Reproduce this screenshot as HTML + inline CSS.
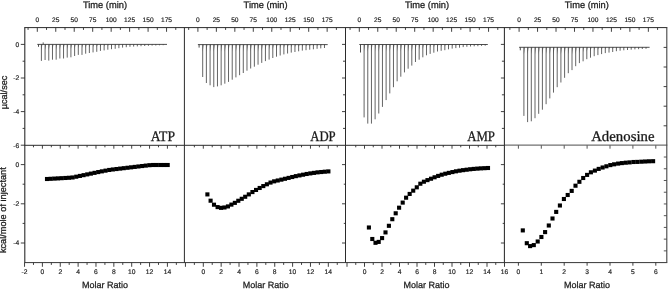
<!DOCTYPE html>
<html><head><meta charset="utf-8"><title>ITC</title>
<style>
html,body{margin:0;padding:0;background:#fff;}
body{width:670px;height:291px;overflow:hidden;font-family:"Liberation Sans",sans-serif;}
svg{display:block;will-change:transform;}
text{text-rendering:geometricPrecision;}
</style></head>
<body>
<svg width="670" height="291" viewBox="0 0 670 291">
<rect x="0" y="0" width="670" height="291" fill="#ffffff"/>
<line x1="24.30" y1="27.60" x2="667.30" y2="27.60" stroke="#2b2b2b" stroke-width="1.0"/>
<line x1="24.30" y1="145.30" x2="504.40" y2="145.30" stroke="#2b2b2b" stroke-width="1.0"/>
<line x1="504.40" y1="145.10" x2="667.30" y2="145.10" stroke="#707070" stroke-width="1.4"/>
<line x1="24.30" y1="262.60" x2="667.30" y2="262.60" stroke="#2b2b2b" stroke-width="0.95"/>
<line x1="24.80" y1="27.60" x2="24.80" y2="262.60" stroke="#2b2b2b" stroke-width="1.1"/>
<line x1="184.40" y1="27.60" x2="184.40" y2="262.60" stroke="#2b2b2b" stroke-width="1.0"/>
<line x1="345.50" y1="27.60" x2="345.50" y2="262.60" stroke="#2b2b2b" stroke-width="1.05"/>
<line x1="504.40" y1="27.60" x2="504.40" y2="262.60" stroke="#2b2b2b" stroke-width="1.05"/>
<line x1="666.80" y1="27.60" x2="666.80" y2="262.60" stroke="#444" stroke-width="1.1"/>
<line x1="28.07" y1="27.60" x2="28.07" y2="29.90" stroke="#2b2b2b" stroke-width="0.9"/>
<line x1="37.30" y1="27.60" x2="37.30" y2="31.80" stroke="#2b2b2b" stroke-width="0.9"/>
<line x1="46.53" y1="27.60" x2="46.53" y2="29.90" stroke="#2b2b2b" stroke-width="0.9"/>
<line x1="55.76" y1="27.60" x2="55.76" y2="31.80" stroke="#2b2b2b" stroke-width="0.9"/>
<line x1="65.00" y1="27.60" x2="65.00" y2="29.90" stroke="#2b2b2b" stroke-width="0.9"/>
<line x1="74.23" y1="27.60" x2="74.23" y2="31.80" stroke="#2b2b2b" stroke-width="0.9"/>
<line x1="83.46" y1="27.60" x2="83.46" y2="29.90" stroke="#2b2b2b" stroke-width="0.9"/>
<line x1="92.69" y1="27.60" x2="92.69" y2="31.80" stroke="#2b2b2b" stroke-width="0.9"/>
<line x1="101.92" y1="27.60" x2="101.92" y2="29.90" stroke="#2b2b2b" stroke-width="0.9"/>
<line x1="111.16" y1="27.60" x2="111.16" y2="31.80" stroke="#2b2b2b" stroke-width="0.9"/>
<line x1="120.39" y1="27.60" x2="120.39" y2="29.90" stroke="#2b2b2b" stroke-width="0.9"/>
<line x1="129.62" y1="27.60" x2="129.62" y2="31.80" stroke="#2b2b2b" stroke-width="0.9"/>
<line x1="138.85" y1="27.60" x2="138.85" y2="29.90" stroke="#2b2b2b" stroke-width="0.9"/>
<line x1="148.09" y1="27.60" x2="148.09" y2="31.80" stroke="#2b2b2b" stroke-width="0.9"/>
<line x1="157.32" y1="27.60" x2="157.32" y2="29.90" stroke="#2b2b2b" stroke-width="0.9"/>
<line x1="166.55" y1="27.60" x2="166.55" y2="31.80" stroke="#2b2b2b" stroke-width="0.9"/>
<line x1="175.78" y1="27.60" x2="175.78" y2="29.90" stroke="#2b2b2b" stroke-width="0.9"/>
<text x="37.30" y="22.20" font-size="6.6" text-anchor="middle" font-family='"Liberation Sans", sans-serif' fill="#1c1c1c" stroke="#1c1c1c" stroke-width="0.18" >0</text>
<text x="55.76" y="22.20" font-size="6.6" text-anchor="middle" font-family='"Liberation Sans", sans-serif' fill="#1c1c1c" stroke="#1c1c1c" stroke-width="0.18" >25</text>
<text x="74.23" y="22.20" font-size="6.6" text-anchor="middle" font-family='"Liberation Sans", sans-serif' fill="#1c1c1c" stroke="#1c1c1c" stroke-width="0.18" >50</text>
<text x="92.69" y="22.20" font-size="6.6" text-anchor="middle" font-family='"Liberation Sans", sans-serif' fill="#1c1c1c" stroke="#1c1c1c" stroke-width="0.18" >75</text>
<text x="111.16" y="22.20" font-size="6.6" text-anchor="middle" font-family='"Liberation Sans", sans-serif' fill="#1c1c1c" stroke="#1c1c1c" stroke-width="0.18" >100</text>
<text x="129.62" y="22.20" font-size="6.6" text-anchor="middle" font-family='"Liberation Sans", sans-serif' fill="#1c1c1c" stroke="#1c1c1c" stroke-width="0.18" >125</text>
<text x="148.09" y="22.20" font-size="6.6" text-anchor="middle" font-family='"Liberation Sans", sans-serif' fill="#1c1c1c" stroke="#1c1c1c" stroke-width="0.18" >150</text>
<text x="166.55" y="22.20" font-size="6.6" text-anchor="middle" font-family='"Liberation Sans", sans-serif' fill="#1c1c1c" stroke="#1c1c1c" stroke-width="0.18" >175</text>
<text x="105.00" y="8.40" font-size="9.3" text-anchor="middle" font-family='"Liberation Sans", sans-serif' fill="#1c1c1c" stroke="#1c1c1c" stroke-width="0.28" >Time (min)</text>
<line x1="188.67" y1="27.60" x2="188.67" y2="29.90" stroke="#2b2b2b" stroke-width="0.9"/>
<line x1="197.90" y1="27.60" x2="197.90" y2="31.80" stroke="#2b2b2b" stroke-width="0.9"/>
<line x1="207.13" y1="27.60" x2="207.13" y2="29.90" stroke="#2b2b2b" stroke-width="0.9"/>
<line x1="216.36" y1="27.60" x2="216.36" y2="31.80" stroke="#2b2b2b" stroke-width="0.9"/>
<line x1="225.60" y1="27.60" x2="225.60" y2="29.90" stroke="#2b2b2b" stroke-width="0.9"/>
<line x1="234.83" y1="27.60" x2="234.83" y2="31.80" stroke="#2b2b2b" stroke-width="0.9"/>
<line x1="244.06" y1="27.60" x2="244.06" y2="29.90" stroke="#2b2b2b" stroke-width="0.9"/>
<line x1="253.29" y1="27.60" x2="253.29" y2="31.80" stroke="#2b2b2b" stroke-width="0.9"/>
<line x1="262.52" y1="27.60" x2="262.52" y2="29.90" stroke="#2b2b2b" stroke-width="0.9"/>
<line x1="271.76" y1="27.60" x2="271.76" y2="31.80" stroke="#2b2b2b" stroke-width="0.9"/>
<line x1="280.99" y1="27.60" x2="280.99" y2="29.90" stroke="#2b2b2b" stroke-width="0.9"/>
<line x1="290.22" y1="27.60" x2="290.22" y2="31.80" stroke="#2b2b2b" stroke-width="0.9"/>
<line x1="299.45" y1="27.60" x2="299.45" y2="29.90" stroke="#2b2b2b" stroke-width="0.9"/>
<line x1="308.69" y1="27.60" x2="308.69" y2="31.80" stroke="#2b2b2b" stroke-width="0.9"/>
<line x1="317.92" y1="27.60" x2="317.92" y2="29.90" stroke="#2b2b2b" stroke-width="0.9"/>
<line x1="327.15" y1="27.60" x2="327.15" y2="31.80" stroke="#2b2b2b" stroke-width="0.9"/>
<line x1="336.38" y1="27.60" x2="336.38" y2="29.90" stroke="#2b2b2b" stroke-width="0.9"/>
<text x="197.90" y="22.20" font-size="6.6" text-anchor="middle" font-family='"Liberation Sans", sans-serif' fill="#1c1c1c" stroke="#1c1c1c" stroke-width="0.18" >0</text>
<text x="216.36" y="22.20" font-size="6.6" text-anchor="middle" font-family='"Liberation Sans", sans-serif' fill="#1c1c1c" stroke="#1c1c1c" stroke-width="0.18" >25</text>
<text x="234.83" y="22.20" font-size="6.6" text-anchor="middle" font-family='"Liberation Sans", sans-serif' fill="#1c1c1c" stroke="#1c1c1c" stroke-width="0.18" >50</text>
<text x="253.29" y="22.20" font-size="6.6" text-anchor="middle" font-family='"Liberation Sans", sans-serif' fill="#1c1c1c" stroke="#1c1c1c" stroke-width="0.18" >75</text>
<text x="271.76" y="22.20" font-size="6.6" text-anchor="middle" font-family='"Liberation Sans", sans-serif' fill="#1c1c1c" stroke="#1c1c1c" stroke-width="0.18" >100</text>
<text x="290.22" y="22.20" font-size="6.6" text-anchor="middle" font-family='"Liberation Sans", sans-serif' fill="#1c1c1c" stroke="#1c1c1c" stroke-width="0.18" >125</text>
<text x="308.69" y="22.20" font-size="6.6" text-anchor="middle" font-family='"Liberation Sans", sans-serif' fill="#1c1c1c" stroke="#1c1c1c" stroke-width="0.18" >150</text>
<text x="327.15" y="22.20" font-size="6.6" text-anchor="middle" font-family='"Liberation Sans", sans-serif' fill="#1c1c1c" stroke="#1c1c1c" stroke-width="0.18" >175</text>
<text x="265.60" y="8.40" font-size="9.3" text-anchor="middle" font-family='"Liberation Sans", sans-serif' fill="#1c1c1c" stroke="#1c1c1c" stroke-width="0.28" >Time (min)</text>
<line x1="350.07" y1="27.60" x2="350.07" y2="29.90" stroke="#2b2b2b" stroke-width="0.9"/>
<line x1="359.30" y1="27.60" x2="359.30" y2="31.80" stroke="#2b2b2b" stroke-width="0.9"/>
<line x1="368.53" y1="27.60" x2="368.53" y2="29.90" stroke="#2b2b2b" stroke-width="0.9"/>
<line x1="377.76" y1="27.60" x2="377.76" y2="31.80" stroke="#2b2b2b" stroke-width="0.9"/>
<line x1="387.00" y1="27.60" x2="387.00" y2="29.90" stroke="#2b2b2b" stroke-width="0.9"/>
<line x1="396.23" y1="27.60" x2="396.23" y2="31.80" stroke="#2b2b2b" stroke-width="0.9"/>
<line x1="405.46" y1="27.60" x2="405.46" y2="29.90" stroke="#2b2b2b" stroke-width="0.9"/>
<line x1="414.69" y1="27.60" x2="414.69" y2="31.80" stroke="#2b2b2b" stroke-width="0.9"/>
<line x1="423.93" y1="27.60" x2="423.93" y2="29.90" stroke="#2b2b2b" stroke-width="0.9"/>
<line x1="433.16" y1="27.60" x2="433.16" y2="31.80" stroke="#2b2b2b" stroke-width="0.9"/>
<line x1="442.39" y1="27.60" x2="442.39" y2="29.90" stroke="#2b2b2b" stroke-width="0.9"/>
<line x1="451.62" y1="27.60" x2="451.62" y2="31.80" stroke="#2b2b2b" stroke-width="0.9"/>
<line x1="460.85" y1="27.60" x2="460.85" y2="29.90" stroke="#2b2b2b" stroke-width="0.9"/>
<line x1="470.09" y1="27.60" x2="470.09" y2="31.80" stroke="#2b2b2b" stroke-width="0.9"/>
<line x1="479.32" y1="27.60" x2="479.32" y2="29.90" stroke="#2b2b2b" stroke-width="0.9"/>
<line x1="488.55" y1="27.60" x2="488.55" y2="31.80" stroke="#2b2b2b" stroke-width="0.9"/>
<line x1="497.78" y1="27.60" x2="497.78" y2="29.90" stroke="#2b2b2b" stroke-width="0.9"/>
<text x="359.30" y="22.20" font-size="6.6" text-anchor="middle" font-family='"Liberation Sans", sans-serif' fill="#1c1c1c" stroke="#1c1c1c" stroke-width="0.18" >0</text>
<text x="377.76" y="22.20" font-size="6.6" text-anchor="middle" font-family='"Liberation Sans", sans-serif' fill="#1c1c1c" stroke="#1c1c1c" stroke-width="0.18" >25</text>
<text x="396.23" y="22.20" font-size="6.6" text-anchor="middle" font-family='"Liberation Sans", sans-serif' fill="#1c1c1c" stroke="#1c1c1c" stroke-width="0.18" >50</text>
<text x="414.69" y="22.20" font-size="6.6" text-anchor="middle" font-family='"Liberation Sans", sans-serif' fill="#1c1c1c" stroke="#1c1c1c" stroke-width="0.18" >75</text>
<text x="433.16" y="22.20" font-size="6.6" text-anchor="middle" font-family='"Liberation Sans", sans-serif' fill="#1c1c1c" stroke="#1c1c1c" stroke-width="0.18" >100</text>
<text x="451.62" y="22.20" font-size="6.6" text-anchor="middle" font-family='"Liberation Sans", sans-serif' fill="#1c1c1c" stroke="#1c1c1c" stroke-width="0.18" >125</text>
<text x="470.09" y="22.20" font-size="6.6" text-anchor="middle" font-family='"Liberation Sans", sans-serif' fill="#1c1c1c" stroke="#1c1c1c" stroke-width="0.18" >150</text>
<text x="488.55" y="22.20" font-size="6.6" text-anchor="middle" font-family='"Liberation Sans", sans-serif' fill="#1c1c1c" stroke="#1c1c1c" stroke-width="0.18" >175</text>
<text x="427.00" y="8.40" font-size="9.3" text-anchor="middle" font-family='"Liberation Sans", sans-serif' fill="#1c1c1c" stroke="#1c1c1c" stroke-width="0.28" >Time (min)</text>
<line x1="509.87" y1="27.60" x2="509.87" y2="29.90" stroke="#2b2b2b" stroke-width="0.9"/>
<line x1="519.10" y1="27.60" x2="519.10" y2="31.80" stroke="#2b2b2b" stroke-width="0.9"/>
<line x1="528.33" y1="27.60" x2="528.33" y2="29.90" stroke="#2b2b2b" stroke-width="0.9"/>
<line x1="537.56" y1="27.60" x2="537.56" y2="31.80" stroke="#2b2b2b" stroke-width="0.9"/>
<line x1="546.80" y1="27.60" x2="546.80" y2="29.90" stroke="#2b2b2b" stroke-width="0.9"/>
<line x1="556.03" y1="27.60" x2="556.03" y2="31.80" stroke="#2b2b2b" stroke-width="0.9"/>
<line x1="565.26" y1="27.60" x2="565.26" y2="29.90" stroke="#2b2b2b" stroke-width="0.9"/>
<line x1="574.49" y1="27.60" x2="574.49" y2="31.80" stroke="#2b2b2b" stroke-width="0.9"/>
<line x1="583.73" y1="27.60" x2="583.73" y2="29.90" stroke="#2b2b2b" stroke-width="0.9"/>
<line x1="592.96" y1="27.60" x2="592.96" y2="31.80" stroke="#2b2b2b" stroke-width="0.9"/>
<line x1="602.19" y1="27.60" x2="602.19" y2="29.90" stroke="#2b2b2b" stroke-width="0.9"/>
<line x1="611.42" y1="27.60" x2="611.42" y2="31.80" stroke="#2b2b2b" stroke-width="0.9"/>
<line x1="620.65" y1="27.60" x2="620.65" y2="29.90" stroke="#2b2b2b" stroke-width="0.9"/>
<line x1="629.89" y1="27.60" x2="629.89" y2="31.80" stroke="#2b2b2b" stroke-width="0.9"/>
<line x1="639.12" y1="27.60" x2="639.12" y2="29.90" stroke="#2b2b2b" stroke-width="0.9"/>
<line x1="648.35" y1="27.60" x2="648.35" y2="31.80" stroke="#2b2b2b" stroke-width="0.9"/>
<line x1="657.58" y1="27.60" x2="657.58" y2="29.90" stroke="#2b2b2b" stroke-width="0.9"/>
<text x="519.10" y="22.20" font-size="6.6" text-anchor="middle" font-family='"Liberation Sans", sans-serif' fill="#1c1c1c" stroke="#1c1c1c" stroke-width="0.18" >0</text>
<text x="537.56" y="22.20" font-size="6.6" text-anchor="middle" font-family='"Liberation Sans", sans-serif' fill="#1c1c1c" stroke="#1c1c1c" stroke-width="0.18" >25</text>
<text x="556.03" y="22.20" font-size="6.6" text-anchor="middle" font-family='"Liberation Sans", sans-serif' fill="#1c1c1c" stroke="#1c1c1c" stroke-width="0.18" >50</text>
<text x="574.49" y="22.20" font-size="6.6" text-anchor="middle" font-family='"Liberation Sans", sans-serif' fill="#1c1c1c" stroke="#1c1c1c" stroke-width="0.18" >75</text>
<text x="592.96" y="22.20" font-size="6.6" text-anchor="middle" font-family='"Liberation Sans", sans-serif' fill="#1c1c1c" stroke="#1c1c1c" stroke-width="0.18" >100</text>
<text x="611.42" y="22.20" font-size="6.6" text-anchor="middle" font-family='"Liberation Sans", sans-serif' fill="#1c1c1c" stroke="#1c1c1c" stroke-width="0.18" >125</text>
<text x="629.89" y="22.20" font-size="6.6" text-anchor="middle" font-family='"Liberation Sans", sans-serif' fill="#1c1c1c" stroke="#1c1c1c" stroke-width="0.18" >150</text>
<text x="648.35" y="22.20" font-size="6.6" text-anchor="middle" font-family='"Liberation Sans", sans-serif' fill="#1c1c1c" stroke="#1c1c1c" stroke-width="0.18" >175</text>
<text x="586.80" y="8.40" font-size="9.3" text-anchor="middle" font-family='"Liberation Sans", sans-serif' fill="#1c1c1c" stroke="#1c1c1c" stroke-width="0.28" >Time (min)</text>
<line x1="24.54" y1="262.60" x2="24.54" y2="266.80" stroke="#2b2b2b" stroke-width="0.9"/>
<line x1="33.47" y1="262.60" x2="33.47" y2="264.90" stroke="#2b2b2b" stroke-width="0.9"/>
<line x1="33.47" y1="145.30" x2="33.47" y2="147.30" stroke="#2b2b2b" stroke-width="0.9"/>
<line x1="42.40" y1="262.60" x2="42.40" y2="266.80" stroke="#2b2b2b" stroke-width="0.9"/>
<line x1="42.40" y1="145.30" x2="42.40" y2="148.70" stroke="#2b2b2b" stroke-width="0.9"/>
<line x1="51.33" y1="262.60" x2="51.33" y2="264.90" stroke="#2b2b2b" stroke-width="0.9"/>
<line x1="51.33" y1="145.30" x2="51.33" y2="147.30" stroke="#2b2b2b" stroke-width="0.9"/>
<line x1="60.26" y1="262.60" x2="60.26" y2="266.80" stroke="#2b2b2b" stroke-width="0.9"/>
<line x1="60.26" y1="145.30" x2="60.26" y2="148.70" stroke="#2b2b2b" stroke-width="0.9"/>
<line x1="69.19" y1="262.60" x2="69.19" y2="264.90" stroke="#2b2b2b" stroke-width="0.9"/>
<line x1="69.19" y1="145.30" x2="69.19" y2="147.30" stroke="#2b2b2b" stroke-width="0.9"/>
<line x1="78.12" y1="262.60" x2="78.12" y2="266.80" stroke="#2b2b2b" stroke-width="0.9"/>
<line x1="78.12" y1="145.30" x2="78.12" y2="148.70" stroke="#2b2b2b" stroke-width="0.9"/>
<line x1="87.05" y1="262.60" x2="87.05" y2="264.90" stroke="#2b2b2b" stroke-width="0.9"/>
<line x1="87.05" y1="145.30" x2="87.05" y2="147.30" stroke="#2b2b2b" stroke-width="0.9"/>
<line x1="95.98" y1="262.60" x2="95.98" y2="266.80" stroke="#2b2b2b" stroke-width="0.9"/>
<line x1="95.98" y1="145.30" x2="95.98" y2="148.70" stroke="#2b2b2b" stroke-width="0.9"/>
<line x1="104.91" y1="262.60" x2="104.91" y2="264.90" stroke="#2b2b2b" stroke-width="0.9"/>
<line x1="104.91" y1="145.30" x2="104.91" y2="147.30" stroke="#2b2b2b" stroke-width="0.9"/>
<line x1="113.84" y1="262.60" x2="113.84" y2="266.80" stroke="#2b2b2b" stroke-width="0.9"/>
<line x1="113.84" y1="145.30" x2="113.84" y2="148.70" stroke="#2b2b2b" stroke-width="0.9"/>
<line x1="122.77" y1="262.60" x2="122.77" y2="264.90" stroke="#2b2b2b" stroke-width="0.9"/>
<line x1="122.77" y1="145.30" x2="122.77" y2="147.30" stroke="#2b2b2b" stroke-width="0.9"/>
<line x1="131.70" y1="262.60" x2="131.70" y2="266.80" stroke="#2b2b2b" stroke-width="0.9"/>
<line x1="131.70" y1="145.30" x2="131.70" y2="148.70" stroke="#2b2b2b" stroke-width="0.9"/>
<line x1="140.63" y1="262.60" x2="140.63" y2="264.90" stroke="#2b2b2b" stroke-width="0.9"/>
<line x1="140.63" y1="145.30" x2="140.63" y2="147.30" stroke="#2b2b2b" stroke-width="0.9"/>
<line x1="149.56" y1="262.60" x2="149.56" y2="266.80" stroke="#2b2b2b" stroke-width="0.9"/>
<line x1="149.56" y1="145.30" x2="149.56" y2="148.70" stroke="#2b2b2b" stroke-width="0.9"/>
<line x1="158.49" y1="262.60" x2="158.49" y2="264.90" stroke="#2b2b2b" stroke-width="0.9"/>
<line x1="158.49" y1="145.30" x2="158.49" y2="147.30" stroke="#2b2b2b" stroke-width="0.9"/>
<line x1="167.42" y1="262.60" x2="167.42" y2="266.80" stroke="#2b2b2b" stroke-width="0.9"/>
<line x1="167.42" y1="145.30" x2="167.42" y2="148.70" stroke="#2b2b2b" stroke-width="0.9"/>
<line x1="176.35" y1="262.60" x2="176.35" y2="264.90" stroke="#2b2b2b" stroke-width="0.9"/>
<line x1="176.35" y1="145.30" x2="176.35" y2="147.30" stroke="#2b2b2b" stroke-width="0.9"/>
<text x="24.54" y="274.20" font-size="6.7" text-anchor="middle" font-family='"Liberation Sans", sans-serif' fill="#1c1c1c" stroke="#1c1c1c" stroke-width="0.18" >-2</text>
<text x="42.40" y="274.20" font-size="6.7" text-anchor="middle" font-family='"Liberation Sans", sans-serif' fill="#1c1c1c" stroke="#1c1c1c" stroke-width="0.18" >0</text>
<text x="60.26" y="274.20" font-size="6.7" text-anchor="middle" font-family='"Liberation Sans", sans-serif' fill="#1c1c1c" stroke="#1c1c1c" stroke-width="0.18" >2</text>
<text x="78.12" y="274.20" font-size="6.7" text-anchor="middle" font-family='"Liberation Sans", sans-serif' fill="#1c1c1c" stroke="#1c1c1c" stroke-width="0.18" >4</text>
<text x="95.98" y="274.20" font-size="6.7" text-anchor="middle" font-family='"Liberation Sans", sans-serif' fill="#1c1c1c" stroke="#1c1c1c" stroke-width="0.18" >6</text>
<text x="113.84" y="274.20" font-size="6.7" text-anchor="middle" font-family='"Liberation Sans", sans-serif' fill="#1c1c1c" stroke="#1c1c1c" stroke-width="0.18" >8</text>
<text x="131.70" y="274.20" font-size="6.7" text-anchor="middle" font-family='"Liberation Sans", sans-serif' fill="#1c1c1c" stroke="#1c1c1c" stroke-width="0.18" >10</text>
<text x="149.56" y="274.20" font-size="6.7" text-anchor="middle" font-family='"Liberation Sans", sans-serif' fill="#1c1c1c" stroke="#1c1c1c" stroke-width="0.18" >12</text>
<text x="167.42" y="274.20" font-size="6.7" text-anchor="middle" font-family='"Liberation Sans", sans-serif' fill="#1c1c1c" stroke="#1c1c1c" stroke-width="0.18" >14</text>
<text x="104.90" y="287.60" font-size="9" text-anchor="middle" font-family='"Liberation Sans", sans-serif' fill="#1c1c1c" stroke="#1c1c1c" stroke-width="0.25" >Molar Ratio</text>
<line x1="185.44" y1="262.60" x2="185.44" y2="266.80" stroke="#2b2b2b" stroke-width="0.9"/>
<line x1="194.37" y1="262.60" x2="194.37" y2="264.90" stroke="#2b2b2b" stroke-width="0.9"/>
<line x1="194.37" y1="145.30" x2="194.37" y2="147.30" stroke="#2b2b2b" stroke-width="0.9"/>
<line x1="203.30" y1="262.60" x2="203.30" y2="266.80" stroke="#2b2b2b" stroke-width="0.9"/>
<line x1="203.30" y1="145.30" x2="203.30" y2="148.70" stroke="#2b2b2b" stroke-width="0.9"/>
<line x1="212.23" y1="262.60" x2="212.23" y2="264.90" stroke="#2b2b2b" stroke-width="0.9"/>
<line x1="212.23" y1="145.30" x2="212.23" y2="147.30" stroke="#2b2b2b" stroke-width="0.9"/>
<line x1="221.16" y1="262.60" x2="221.16" y2="266.80" stroke="#2b2b2b" stroke-width="0.9"/>
<line x1="221.16" y1="145.30" x2="221.16" y2="148.70" stroke="#2b2b2b" stroke-width="0.9"/>
<line x1="230.09" y1="262.60" x2="230.09" y2="264.90" stroke="#2b2b2b" stroke-width="0.9"/>
<line x1="230.09" y1="145.30" x2="230.09" y2="147.30" stroke="#2b2b2b" stroke-width="0.9"/>
<line x1="239.02" y1="262.60" x2="239.02" y2="266.80" stroke="#2b2b2b" stroke-width="0.9"/>
<line x1="239.02" y1="145.30" x2="239.02" y2="148.70" stroke="#2b2b2b" stroke-width="0.9"/>
<line x1="247.95" y1="262.60" x2="247.95" y2="264.90" stroke="#2b2b2b" stroke-width="0.9"/>
<line x1="247.95" y1="145.30" x2="247.95" y2="147.30" stroke="#2b2b2b" stroke-width="0.9"/>
<line x1="256.88" y1="262.60" x2="256.88" y2="266.80" stroke="#2b2b2b" stroke-width="0.9"/>
<line x1="256.88" y1="145.30" x2="256.88" y2="148.70" stroke="#2b2b2b" stroke-width="0.9"/>
<line x1="265.81" y1="262.60" x2="265.81" y2="264.90" stroke="#2b2b2b" stroke-width="0.9"/>
<line x1="265.81" y1="145.30" x2="265.81" y2="147.30" stroke="#2b2b2b" stroke-width="0.9"/>
<line x1="274.74" y1="262.60" x2="274.74" y2="266.80" stroke="#2b2b2b" stroke-width="0.9"/>
<line x1="274.74" y1="145.30" x2="274.74" y2="148.70" stroke="#2b2b2b" stroke-width="0.9"/>
<line x1="283.67" y1="262.60" x2="283.67" y2="264.90" stroke="#2b2b2b" stroke-width="0.9"/>
<line x1="283.67" y1="145.30" x2="283.67" y2="147.30" stroke="#2b2b2b" stroke-width="0.9"/>
<line x1="292.60" y1="262.60" x2="292.60" y2="266.80" stroke="#2b2b2b" stroke-width="0.9"/>
<line x1="292.60" y1="145.30" x2="292.60" y2="148.70" stroke="#2b2b2b" stroke-width="0.9"/>
<line x1="301.53" y1="262.60" x2="301.53" y2="264.90" stroke="#2b2b2b" stroke-width="0.9"/>
<line x1="301.53" y1="145.30" x2="301.53" y2="147.30" stroke="#2b2b2b" stroke-width="0.9"/>
<line x1="310.46" y1="262.60" x2="310.46" y2="266.80" stroke="#2b2b2b" stroke-width="0.9"/>
<line x1="310.46" y1="145.30" x2="310.46" y2="148.70" stroke="#2b2b2b" stroke-width="0.9"/>
<line x1="319.39" y1="262.60" x2="319.39" y2="264.90" stroke="#2b2b2b" stroke-width="0.9"/>
<line x1="319.39" y1="145.30" x2="319.39" y2="147.30" stroke="#2b2b2b" stroke-width="0.9"/>
<line x1="328.32" y1="262.60" x2="328.32" y2="266.80" stroke="#2b2b2b" stroke-width="0.9"/>
<line x1="328.32" y1="145.30" x2="328.32" y2="148.70" stroke="#2b2b2b" stroke-width="0.9"/>
<line x1="337.25" y1="262.60" x2="337.25" y2="264.90" stroke="#2b2b2b" stroke-width="0.9"/>
<line x1="337.25" y1="145.30" x2="337.25" y2="147.30" stroke="#2b2b2b" stroke-width="0.9"/>
<text x="203.30" y="274.20" font-size="6.7" text-anchor="middle" font-family='"Liberation Sans", sans-serif' fill="#1c1c1c" stroke="#1c1c1c" stroke-width="0.18" >0</text>
<text x="221.16" y="274.20" font-size="6.7" text-anchor="middle" font-family='"Liberation Sans", sans-serif' fill="#1c1c1c" stroke="#1c1c1c" stroke-width="0.18" >2</text>
<text x="239.02" y="274.20" font-size="6.7" text-anchor="middle" font-family='"Liberation Sans", sans-serif' fill="#1c1c1c" stroke="#1c1c1c" stroke-width="0.18" >4</text>
<text x="256.88" y="274.20" font-size="6.7" text-anchor="middle" font-family='"Liberation Sans", sans-serif' fill="#1c1c1c" stroke="#1c1c1c" stroke-width="0.18" >6</text>
<text x="274.74" y="274.20" font-size="6.7" text-anchor="middle" font-family='"Liberation Sans", sans-serif' fill="#1c1c1c" stroke="#1c1c1c" stroke-width="0.18" >8</text>
<text x="292.60" y="274.20" font-size="6.7" text-anchor="middle" font-family='"Liberation Sans", sans-serif' fill="#1c1c1c" stroke="#1c1c1c" stroke-width="0.18" >10</text>
<text x="310.46" y="274.20" font-size="6.7" text-anchor="middle" font-family='"Liberation Sans", sans-serif' fill="#1c1c1c" stroke="#1c1c1c" stroke-width="0.18" >12</text>
<text x="328.32" y="274.20" font-size="6.7" text-anchor="middle" font-family='"Liberation Sans", sans-serif' fill="#1c1c1c" stroke="#1c1c1c" stroke-width="0.18" >14</text>
<text x="265.70" y="287.60" font-size="9" text-anchor="middle" font-family='"Liberation Sans", sans-serif' fill="#1c1c1c" stroke="#1c1c1c" stroke-width="0.25" >Molar Ratio</text>
<line x1="347.00" y1="262.60" x2="347.00" y2="266.80" stroke="#2b2b2b" stroke-width="0.9"/>
<line x1="355.75" y1="262.60" x2="355.75" y2="264.90" stroke="#2b2b2b" stroke-width="0.9"/>
<line x1="355.75" y1="145.30" x2="355.75" y2="147.30" stroke="#2b2b2b" stroke-width="0.9"/>
<line x1="364.50" y1="262.60" x2="364.50" y2="266.80" stroke="#2b2b2b" stroke-width="0.9"/>
<line x1="364.50" y1="145.30" x2="364.50" y2="148.70" stroke="#2b2b2b" stroke-width="0.9"/>
<line x1="373.25" y1="262.60" x2="373.25" y2="264.90" stroke="#2b2b2b" stroke-width="0.9"/>
<line x1="373.25" y1="145.30" x2="373.25" y2="147.30" stroke="#2b2b2b" stroke-width="0.9"/>
<line x1="382.00" y1="262.60" x2="382.00" y2="266.80" stroke="#2b2b2b" stroke-width="0.9"/>
<line x1="382.00" y1="145.30" x2="382.00" y2="148.70" stroke="#2b2b2b" stroke-width="0.9"/>
<line x1="390.75" y1="262.60" x2="390.75" y2="264.90" stroke="#2b2b2b" stroke-width="0.9"/>
<line x1="390.75" y1="145.30" x2="390.75" y2="147.30" stroke="#2b2b2b" stroke-width="0.9"/>
<line x1="399.50" y1="262.60" x2="399.50" y2="266.80" stroke="#2b2b2b" stroke-width="0.9"/>
<line x1="399.50" y1="145.30" x2="399.50" y2="148.70" stroke="#2b2b2b" stroke-width="0.9"/>
<line x1="408.25" y1="262.60" x2="408.25" y2="264.90" stroke="#2b2b2b" stroke-width="0.9"/>
<line x1="408.25" y1="145.30" x2="408.25" y2="147.30" stroke="#2b2b2b" stroke-width="0.9"/>
<line x1="417.00" y1="262.60" x2="417.00" y2="266.80" stroke="#2b2b2b" stroke-width="0.9"/>
<line x1="417.00" y1="145.30" x2="417.00" y2="148.70" stroke="#2b2b2b" stroke-width="0.9"/>
<line x1="425.75" y1="262.60" x2="425.75" y2="264.90" stroke="#2b2b2b" stroke-width="0.9"/>
<line x1="425.75" y1="145.30" x2="425.75" y2="147.30" stroke="#2b2b2b" stroke-width="0.9"/>
<line x1="434.50" y1="262.60" x2="434.50" y2="266.80" stroke="#2b2b2b" stroke-width="0.9"/>
<line x1="434.50" y1="145.30" x2="434.50" y2="148.70" stroke="#2b2b2b" stroke-width="0.9"/>
<line x1="443.25" y1="262.60" x2="443.25" y2="264.90" stroke="#2b2b2b" stroke-width="0.9"/>
<line x1="443.25" y1="145.30" x2="443.25" y2="147.30" stroke="#2b2b2b" stroke-width="0.9"/>
<line x1="452.00" y1="262.60" x2="452.00" y2="266.80" stroke="#2b2b2b" stroke-width="0.9"/>
<line x1="452.00" y1="145.30" x2="452.00" y2="148.70" stroke="#2b2b2b" stroke-width="0.9"/>
<line x1="460.75" y1="262.60" x2="460.75" y2="264.90" stroke="#2b2b2b" stroke-width="0.9"/>
<line x1="460.75" y1="145.30" x2="460.75" y2="147.30" stroke="#2b2b2b" stroke-width="0.9"/>
<line x1="469.50" y1="262.60" x2="469.50" y2="266.80" stroke="#2b2b2b" stroke-width="0.9"/>
<line x1="469.50" y1="145.30" x2="469.50" y2="148.70" stroke="#2b2b2b" stroke-width="0.9"/>
<line x1="478.25" y1="262.60" x2="478.25" y2="264.90" stroke="#2b2b2b" stroke-width="0.9"/>
<line x1="478.25" y1="145.30" x2="478.25" y2="147.30" stroke="#2b2b2b" stroke-width="0.9"/>
<line x1="487.00" y1="262.60" x2="487.00" y2="266.80" stroke="#2b2b2b" stroke-width="0.9"/>
<line x1="487.00" y1="145.30" x2="487.00" y2="148.70" stroke="#2b2b2b" stroke-width="0.9"/>
<line x1="495.75" y1="262.60" x2="495.75" y2="264.90" stroke="#2b2b2b" stroke-width="0.9"/>
<line x1="495.75" y1="145.30" x2="495.75" y2="147.30" stroke="#2b2b2b" stroke-width="0.9"/>
<line x1="504.50" y1="262.60" x2="504.50" y2="266.80" stroke="#2b2b2b" stroke-width="0.9"/>
<text x="364.50" y="274.20" font-size="6.7" text-anchor="middle" font-family='"Liberation Sans", sans-serif' fill="#1c1c1c" stroke="#1c1c1c" stroke-width="0.18" >0</text>
<text x="382.00" y="274.20" font-size="6.7" text-anchor="middle" font-family='"Liberation Sans", sans-serif' fill="#1c1c1c" stroke="#1c1c1c" stroke-width="0.18" >2</text>
<text x="399.50" y="274.20" font-size="6.7" text-anchor="middle" font-family='"Liberation Sans", sans-serif' fill="#1c1c1c" stroke="#1c1c1c" stroke-width="0.18" >4</text>
<text x="417.00" y="274.20" font-size="6.7" text-anchor="middle" font-family='"Liberation Sans", sans-serif' fill="#1c1c1c" stroke="#1c1c1c" stroke-width="0.18" >6</text>
<text x="434.50" y="274.20" font-size="6.7" text-anchor="middle" font-family='"Liberation Sans", sans-serif' fill="#1c1c1c" stroke="#1c1c1c" stroke-width="0.18" >8</text>
<text x="452.00" y="274.20" font-size="6.7" text-anchor="middle" font-family='"Liberation Sans", sans-serif' fill="#1c1c1c" stroke="#1c1c1c" stroke-width="0.18" >10</text>
<text x="469.50" y="274.20" font-size="6.7" text-anchor="middle" font-family='"Liberation Sans", sans-serif' fill="#1c1c1c" stroke="#1c1c1c" stroke-width="0.18" >12</text>
<text x="487.00" y="274.20" font-size="6.7" text-anchor="middle" font-family='"Liberation Sans", sans-serif' fill="#1c1c1c" stroke="#1c1c1c" stroke-width="0.18" >14</text>
<text x="504.50" y="274.20" font-size="6.7" text-anchor="middle" font-family='"Liberation Sans", sans-serif' fill="#1c1c1c" stroke="#1c1c1c" stroke-width="0.18" >16</text>
<text x="426.50" y="287.60" font-size="9" text-anchor="middle" font-family='"Liberation Sans", sans-serif' fill="#1c1c1c" stroke="#1c1c1c" stroke-width="0.25" >Molar Ratio</text>
<line x1="518.40" y1="262.60" x2="518.40" y2="265.70" stroke="#2b2b2b" stroke-width="0.9"/>
<line x1="518.40" y1="145.30" x2="518.40" y2="148.70" stroke="#444" stroke-width="0.9"/>
<line x1="541.30" y1="262.60" x2="541.30" y2="265.70" stroke="#2b2b2b" stroke-width="0.9"/>
<line x1="541.30" y1="145.30" x2="541.30" y2="148.70" stroke="#444" stroke-width="0.9"/>
<line x1="564.20" y1="262.60" x2="564.20" y2="265.70" stroke="#2b2b2b" stroke-width="0.9"/>
<line x1="564.20" y1="145.30" x2="564.20" y2="148.70" stroke="#444" stroke-width="0.9"/>
<line x1="587.10" y1="262.60" x2="587.10" y2="265.70" stroke="#2b2b2b" stroke-width="0.9"/>
<line x1="587.10" y1="145.30" x2="587.10" y2="148.70" stroke="#444" stroke-width="0.9"/>
<line x1="610.00" y1="262.60" x2="610.00" y2="265.70" stroke="#2b2b2b" stroke-width="0.9"/>
<line x1="610.00" y1="145.30" x2="610.00" y2="148.70" stroke="#444" stroke-width="0.9"/>
<line x1="632.90" y1="262.60" x2="632.90" y2="265.70" stroke="#2b2b2b" stroke-width="0.9"/>
<line x1="632.90" y1="145.30" x2="632.90" y2="148.70" stroke="#444" stroke-width="0.9"/>
<line x1="655.80" y1="262.60" x2="655.80" y2="265.70" stroke="#2b2b2b" stroke-width="0.9"/>
<line x1="655.80" y1="145.30" x2="655.80" y2="148.70" stroke="#444" stroke-width="0.9"/>
<text x="518.40" y="274.20" font-size="6.7" text-anchor="middle" font-family='"Liberation Sans", sans-serif' fill="#1c1c1c" stroke="#1c1c1c" stroke-width="0.18" >0</text>
<text x="541.30" y="274.20" font-size="6.7" text-anchor="middle" font-family='"Liberation Sans", sans-serif' fill="#1c1c1c" stroke="#1c1c1c" stroke-width="0.18" >1</text>
<text x="564.20" y="274.20" font-size="6.7" text-anchor="middle" font-family='"Liberation Sans", sans-serif' fill="#1c1c1c" stroke="#1c1c1c" stroke-width="0.18" >2</text>
<text x="587.10" y="274.20" font-size="6.7" text-anchor="middle" font-family='"Liberation Sans", sans-serif' fill="#1c1c1c" stroke="#1c1c1c" stroke-width="0.18" >3</text>
<text x="610.00" y="274.20" font-size="6.7" text-anchor="middle" font-family='"Liberation Sans", sans-serif' fill="#1c1c1c" stroke="#1c1c1c" stroke-width="0.18" >4</text>
<text x="632.90" y="274.20" font-size="6.7" text-anchor="middle" font-family='"Liberation Sans", sans-serif' fill="#1c1c1c" stroke="#1c1c1c" stroke-width="0.18" >5</text>
<text x="655.80" y="274.20" font-size="6.7" text-anchor="middle" font-family='"Liberation Sans", sans-serif' fill="#1c1c1c" stroke="#1c1c1c" stroke-width="0.18" >6</text>
<text x="586.90" y="287.60" font-size="9" text-anchor="middle" font-family='"Liberation Sans", sans-serif' fill="#1c1c1c" stroke="#1c1c1c" stroke-width="0.25" >Molar Ratio</text>
<line x1="20.80" y1="44.40" x2="24.80" y2="44.40" stroke="#2b2b2b" stroke-width="0.9"/>
<line x1="22.60" y1="61.20" x2="24.80" y2="61.20" stroke="#2b2b2b" stroke-width="0.9"/>
<line x1="20.80" y1="78.00" x2="24.80" y2="78.00" stroke="#2b2b2b" stroke-width="0.9"/>
<line x1="22.60" y1="94.80" x2="24.80" y2="94.80" stroke="#2b2b2b" stroke-width="0.9"/>
<line x1="20.80" y1="111.60" x2="24.80" y2="111.60" stroke="#2b2b2b" stroke-width="0.9"/>
<line x1="22.60" y1="128.40" x2="24.80" y2="128.40" stroke="#2b2b2b" stroke-width="0.9"/>
<line x1="20.80" y1="145.20" x2="24.80" y2="145.20" stroke="#2b2b2b" stroke-width="0.9"/>
<text x="19.20" y="46.70" font-size="6.7" text-anchor="end" font-family='"Liberation Sans", sans-serif' fill="#1c1c1c" stroke="#1c1c1c" stroke-width="0.18" >0</text>
<text x="19.20" y="80.30" font-size="6.7" text-anchor="end" font-family='"Liberation Sans", sans-serif' fill="#1c1c1c" stroke="#1c1c1c" stroke-width="0.18" >-2</text>
<text x="19.20" y="113.90" font-size="6.7" text-anchor="end" font-family='"Liberation Sans", sans-serif' fill="#1c1c1c" stroke="#1c1c1c" stroke-width="0.18" >-4</text>
<text x="19.20" y="147.50" font-size="6.7" text-anchor="end" font-family='"Liberation Sans", sans-serif' fill="#1c1c1c" stroke="#1c1c1c" stroke-width="0.18" >-6</text>
<line x1="20.80" y1="164.60" x2="24.80" y2="164.60" stroke="#2b2b2b" stroke-width="0.9"/>
<line x1="22.60" y1="184.20" x2="24.80" y2="184.20" stroke="#2b2b2b" stroke-width="0.9"/>
<line x1="20.80" y1="203.80" x2="24.80" y2="203.80" stroke="#2b2b2b" stroke-width="0.9"/>
<line x1="22.60" y1="223.40" x2="24.80" y2="223.40" stroke="#2b2b2b" stroke-width="0.9"/>
<line x1="20.80" y1="243.00" x2="24.80" y2="243.00" stroke="#2b2b2b" stroke-width="0.9"/>
<text x="19.20" y="166.90" font-size="6.7" text-anchor="end" font-family='"Liberation Sans", sans-serif' fill="#1c1c1c" stroke="#1c1c1c" stroke-width="0.18" >0</text>
<text x="19.20" y="206.10" font-size="6.7" text-anchor="end" font-family='"Liberation Sans", sans-serif' fill="#1c1c1c" stroke="#1c1c1c" stroke-width="0.18" >-2</text>
<text x="19.20" y="245.30" font-size="6.7" text-anchor="end" font-family='"Liberation Sans", sans-serif' fill="#1c1c1c" stroke="#1c1c1c" stroke-width="0.18" >-4</text>
<line x1="342.00" y1="44.40" x2="345.50" y2="44.40" stroke="#2b2b2b" stroke-width="0.9"/>
<line x1="343.00" y1="61.20" x2="345.50" y2="61.20" stroke="#2b2b2b" stroke-width="0.9"/>
<line x1="342.00" y1="78.00" x2="345.50" y2="78.00" stroke="#2b2b2b" stroke-width="0.9"/>
<line x1="343.00" y1="94.80" x2="345.50" y2="94.80" stroke="#2b2b2b" stroke-width="0.9"/>
<line x1="342.00" y1="111.60" x2="345.50" y2="111.60" stroke="#2b2b2b" stroke-width="0.9"/>
<line x1="343.00" y1="128.40" x2="345.50" y2="128.40" stroke="#2b2b2b" stroke-width="0.9"/>
<line x1="342.00" y1="164.60" x2="345.50" y2="164.60" stroke="#2b2b2b" stroke-width="0.9"/>
<line x1="343.80" y1="184.20" x2="345.50" y2="184.20" stroke="#2b2b2b" stroke-width="0.9"/>
<line x1="342.00" y1="203.80" x2="345.50" y2="203.80" stroke="#2b2b2b" stroke-width="0.9"/>
<line x1="343.80" y1="223.40" x2="345.50" y2="223.40" stroke="#2b2b2b" stroke-width="0.9"/>
<line x1="342.00" y1="243.00" x2="345.50" y2="243.00" stroke="#2b2b2b" stroke-width="0.9"/>
<line x1="500.90" y1="44.40" x2="504.40" y2="44.40" stroke="#2b2b2b" stroke-width="0.9"/>
<line x1="501.90" y1="61.20" x2="504.40" y2="61.20" stroke="#2b2b2b" stroke-width="0.9"/>
<line x1="500.90" y1="78.00" x2="504.40" y2="78.00" stroke="#2b2b2b" stroke-width="0.9"/>
<line x1="501.90" y1="94.80" x2="504.40" y2="94.80" stroke="#2b2b2b" stroke-width="0.9"/>
<line x1="500.90" y1="111.60" x2="504.40" y2="111.60" stroke="#2b2b2b" stroke-width="0.9"/>
<line x1="501.90" y1="128.40" x2="504.40" y2="128.40" stroke="#2b2b2b" stroke-width="0.9"/>
<line x1="500.90" y1="164.60" x2="504.40" y2="164.60" stroke="#2b2b2b" stroke-width="0.9"/>
<line x1="502.70" y1="184.20" x2="504.40" y2="184.20" stroke="#2b2b2b" stroke-width="0.9"/>
<line x1="500.90" y1="203.80" x2="504.40" y2="203.80" stroke="#2b2b2b" stroke-width="0.9"/>
<line x1="502.70" y1="223.40" x2="504.40" y2="223.40" stroke="#2b2b2b" stroke-width="0.9"/>
<line x1="500.90" y1="243.00" x2="504.40" y2="243.00" stroke="#2b2b2b" stroke-width="0.9"/>
<line x1="663.60" y1="47.40" x2="666.80" y2="47.40" stroke="#2b2b2b" stroke-width="0.9"/>
<line x1="663.60" y1="67.00" x2="666.80" y2="67.00" stroke="#2b2b2b" stroke-width="0.9"/>
<line x1="663.60" y1="86.60" x2="666.80" y2="86.60" stroke="#2b2b2b" stroke-width="0.9"/>
<line x1="663.60" y1="106.20" x2="666.80" y2="106.20" stroke="#2b2b2b" stroke-width="0.9"/>
<line x1="663.60" y1="125.80" x2="666.80" y2="125.80" stroke="#2b2b2b" stroke-width="0.9"/>
<line x1="663.80" y1="157.03" x2="666.80" y2="157.03" stroke="#444" stroke-width="0.9"/>
<line x1="663.80" y1="168.76" x2="666.80" y2="168.76" stroke="#444" stroke-width="0.9"/>
<line x1="663.80" y1="180.49" x2="666.80" y2="180.49" stroke="#444" stroke-width="0.9"/>
<line x1="663.80" y1="192.22" x2="666.80" y2="192.22" stroke="#444" stroke-width="0.9"/>
<line x1="663.80" y1="203.95" x2="666.80" y2="203.95" stroke="#444" stroke-width="0.9"/>
<line x1="663.80" y1="215.68" x2="666.80" y2="215.68" stroke="#444" stroke-width="0.9"/>
<line x1="663.80" y1="227.41" x2="666.80" y2="227.41" stroke="#444" stroke-width="0.9"/>
<line x1="663.80" y1="239.14" x2="666.80" y2="239.14" stroke="#444" stroke-width="0.9"/>
<line x1="663.80" y1="250.87" x2="666.80" y2="250.87" stroke="#444" stroke-width="0.9"/>
<text transform="translate(6.5,92.5) rotate(-90)" font-size="9.1" text-anchor="middle" font-family='"Liberation Sans", sans-serif' fill="#1c1c1c" stroke="#1c1c1c" stroke-width="0.28">µcal/sec</text>
<text transform="translate(6.4,210.2) rotate(-90)" font-size="9.2" text-anchor="middle" font-family='"Liberation Sans", sans-serif' fill="#1c1c1c" stroke="#1c1c1c" stroke-width="0.28">kcal/mole of injectant</text>
<text x="150.80" y="141.0" font-size="14.6" font-family='"Liberation Serif", serif' fill="#1a1a1a" stroke="#1a1a1a" stroke-width="0.3" textLength="24.2" lengthAdjust="spacingAndGlyphs">ATP</text>
<text x="310.20" y="141.0" font-size="14.6" font-family='"Liberation Serif", serif' fill="#1a1a1a" stroke="#1a1a1a" stroke-width="0.3" textLength="25.5" lengthAdjust="spacingAndGlyphs">ADP</text>
<text x="467.20" y="141.0" font-size="14.6" font-family='"Liberation Serif", serif' fill="#1a1a1a" stroke="#1a1a1a" stroke-width="0.3" textLength="27.8" lengthAdjust="spacingAndGlyphs">AMP</text>
<text x="591.20" y="141.0" font-size="14.6" font-family='"Liberation Serif", serif' fill="#1a1a1a" stroke="#1a1a1a" stroke-width="0.3" textLength="63.3" lengthAdjust="spacingAndGlyphs">Adenosine</text>
<line x1="37.30" y1="44.40" x2="167.00" y2="44.40" stroke="#3a3a3a" stroke-width="0.9"/>
<line x1="38.50" y1="44.40" x2="38.50" y2="46.80" stroke="#3a3a3a" stroke-width="0.9"/>
<line x1="41.40" y1="44.40" x2="41.40" y2="60.90" stroke="#3c3c3c" stroke-width="0.8"/>
<path d="M41.40,44.40 L41.40,50.17 L42.40,44.40 Z" fill="#3c3c3c" opacity="0.7"/>
<line x1="45.09" y1="44.40" x2="45.09" y2="60.00" stroke="#3c3c3c" stroke-width="0.8"/>
<path d="M45.09,44.40 L45.09,49.86 L46.09,44.40 Z" fill="#3c3c3c" opacity="0.7"/>
<line x1="48.78" y1="44.40" x2="48.78" y2="60.60" stroke="#3c3c3c" stroke-width="0.8"/>
<path d="M48.78,44.40 L48.78,50.07 L49.78,44.40 Z" fill="#3c3c3c" opacity="0.7"/>
<line x1="52.47" y1="44.40" x2="52.47" y2="59.70" stroke="#3c3c3c" stroke-width="0.8"/>
<path d="M52.47,44.40 L52.47,49.75 L53.47,44.40 Z" fill="#3c3c3c" opacity="0.7"/>
<line x1="56.16" y1="44.40" x2="56.16" y2="59.70" stroke="#3c3c3c" stroke-width="0.8"/>
<path d="M56.16,44.40 L56.16,49.75 L57.16,44.40 Z" fill="#3c3c3c" opacity="0.7"/>
<line x1="59.85" y1="44.40" x2="59.85" y2="58.50" stroke="#3c3c3c" stroke-width="0.8"/>
<path d="M59.85,44.40 L59.85,49.34 L60.85,44.40 Z" fill="#3c3c3c" opacity="0.7"/>
<line x1="63.54" y1="44.40" x2="63.54" y2="58.50" stroke="#3c3c3c" stroke-width="0.8"/>
<path d="M63.54,44.40 L63.54,49.34 L64.54,44.40 Z" fill="#3c3c3c" opacity="0.7"/>
<line x1="67.23" y1="44.40" x2="67.23" y2="57.60" stroke="#3c3c3c" stroke-width="0.8"/>
<path d="M67.23,44.40 L67.23,49.02 L68.23,44.40 Z" fill="#3c3c3c" opacity="0.7"/>
<line x1="70.92" y1="44.40" x2="70.92" y2="57.30" stroke="#3c3c3c" stroke-width="0.8"/>
<path d="M70.92,44.40 L70.92,48.91 L71.92,44.40 Z" fill="#3c3c3c" opacity="0.7"/>
<line x1="74.61" y1="44.40" x2="74.61" y2="56.00" stroke="#3c3c3c" stroke-width="0.8"/>
<path d="M74.61,44.40 L74.61,48.46 L75.61,44.40 Z" fill="#3c3c3c" opacity="0.7"/>
<line x1="78.30" y1="44.40" x2="78.30" y2="54.90" stroke="#3c3c3c" stroke-width="0.8"/>
<path d="M78.30,44.40 L78.30,48.07 L79.30,44.40 Z" fill="#3c3c3c" opacity="0.7"/>
<line x1="81.99" y1="44.40" x2="81.99" y2="54.90" stroke="#3c3c3c" stroke-width="0.8"/>
<path d="M81.99,44.40 L81.99,48.07 L82.99,44.40 Z" fill="#3c3c3c" opacity="0.7"/>
<line x1="85.68" y1="44.40" x2="85.68" y2="53.70" stroke="#3c3c3c" stroke-width="0.8"/>
<path d="M85.68,44.40 L85.68,47.66 L86.68,44.40 Z" fill="#3c3c3c" opacity="0.7"/>
<line x1="89.37" y1="44.40" x2="89.37" y2="53.00" stroke="#3c3c3c" stroke-width="0.8"/>
<path d="M89.37,44.40 L89.37,47.41 L90.37,44.40 Z" fill="#3c3c3c" opacity="0.7"/>
<line x1="93.06" y1="44.40" x2="93.06" y2="52.40" stroke="#3c3c3c" stroke-width="0.8"/>
<path d="M93.06,44.40 L93.06,47.20 L94.06,44.40 Z" fill="#3c3c3c" opacity="0.7"/>
<line x1="96.75" y1="44.40" x2="96.75" y2="51.80" stroke="#3c3c3c" stroke-width="0.8"/>
<path d="M96.75,44.40 L96.75,46.99 L97.75,44.40 Z" fill="#3c3c3c" opacity="0.7"/>
<line x1="100.44" y1="44.40" x2="100.44" y2="50.90" stroke="#3c3c3c" stroke-width="0.8"/>
<path d="M100.44,44.40 L100.44,46.67 L101.44,44.40 Z" fill="#3c3c3c" opacity="0.7"/>
<line x1="104.13" y1="44.40" x2="104.13" y2="50.40" stroke="#3c3c3c" stroke-width="0.8"/>
<path d="M104.13,44.40 L104.13,46.50 L105.13,44.40 Z" fill="#3c3c3c" opacity="0.7"/>
<line x1="107.82" y1="44.40" x2="107.82" y2="49.70" stroke="#3c3c3c" stroke-width="0.8"/>
<path d="M107.82,44.40 L107.82,46.25 L108.82,44.40 Z" fill="#3c3c3c" opacity="0.7"/>
<line x1="111.51" y1="44.40" x2="111.51" y2="49.20" stroke="#3c3c3c" stroke-width="0.8"/>
<path d="M111.51,44.40 L111.51,46.08 L112.51,44.40 Z" fill="#3c3c3c" opacity="0.7"/>
<line x1="115.20" y1="44.40" x2="115.20" y2="48.80" stroke="#3c3c3c" stroke-width="0.8"/>
<path d="M115.20,44.40 L115.20,45.94 L116.20,44.40 Z" fill="#3c3c3c" opacity="0.7"/>
<line x1="118.89" y1="44.40" x2="118.89" y2="48.20" stroke="#3c3c3c" stroke-width="0.8"/>
<path d="M118.89,44.40 L118.89,45.73 L119.89,44.40 Z" fill="#3c3c3c" opacity="0.7"/>
<line x1="122.58" y1="44.40" x2="122.58" y2="47.60" stroke="#3c3c3c" stroke-width="0.8"/>
<path d="M122.58,44.40 L122.58,45.52 L123.58,44.40 Z" fill="#3c3c3c" opacity="0.7"/>
<line x1="126.27" y1="44.40" x2="126.27" y2="47.20" stroke="#3c3c3c" stroke-width="0.8"/>
<path d="M126.27,44.40 L126.27,45.38 L127.27,44.40 Z" fill="#3c3c3c" opacity="0.7"/>
<line x1="129.96" y1="44.40" x2="129.96" y2="46.80" stroke="#3c3c3c" stroke-width="0.8"/>
<path d="M129.96,44.40 L129.96,45.24 L130.96,44.40 Z" fill="#3c3c3c" opacity="0.7"/>
<line x1="133.65" y1="44.40" x2="133.65" y2="46.60" stroke="#3c3c3c" stroke-width="0.8"/>
<path d="M133.65,44.40 L133.65,45.17 L134.65,44.40 Z" fill="#3c3c3c" opacity="0.7"/>
<line x1="137.34" y1="44.40" x2="137.34" y2="46.40" stroke="#3c3c3c" stroke-width="0.8"/>
<path d="M137.34,44.40 L137.34,45.10 L138.34,44.40 Z" fill="#3c3c3c" opacity="0.7"/>
<line x1="141.03" y1="44.40" x2="141.03" y2="46.20" stroke="#3c3c3c" stroke-width="0.8"/>
<path d="M141.03,44.40 L141.03,45.03 L142.03,44.40 Z" fill="#3c3c3c" opacity="0.7"/>
<line x1="144.72" y1="44.40" x2="144.72" y2="46.00" stroke="#3c3c3c" stroke-width="0.8"/>
<path d="M144.72,44.40 L144.72,44.96 L145.72,44.40 Z" fill="#3c3c3c" opacity="0.7"/>
<line x1="148.41" y1="44.40" x2="148.41" y2="45.80" stroke="#3c3c3c" stroke-width="0.8"/>
<path d="M148.41,44.40 L148.41,44.89 L149.41,44.40 Z" fill="#3c3c3c" opacity="0.7"/>
<line x1="152.10" y1="44.40" x2="152.10" y2="45.60" stroke="#3c3c3c" stroke-width="0.8"/>
<path d="M152.10,44.40 L152.10,44.82 L153.10,44.40 Z" fill="#3c3c3c" opacity="0.7"/>
<line x1="155.79" y1="44.40" x2="155.79" y2="45.50" stroke="#3c3c3c" stroke-width="0.8"/>
<path d="M155.79,44.40 L155.79,44.78 L156.79,44.40 Z" fill="#3c3c3c" opacity="0.7"/>
<line x1="159.48" y1="44.40" x2="159.48" y2="45.30" stroke="#3c3c3c" stroke-width="0.8"/>
<path d="M159.48,44.40 L159.48,44.71 L160.48,44.40 Z" fill="#3c3c3c" opacity="0.7"/>
<line x1="163.17" y1="44.40" x2="163.17" y2="45.20" stroke="#3c3c3c" stroke-width="0.8"/>
<path d="M163.17,44.40 L163.17,44.68 L164.17,44.40 Z" fill="#3c3c3c" opacity="0.7"/>
<line x1="197.90" y1="44.60" x2="327.70" y2="44.60" stroke="#3a3a3a" stroke-width="0.9"/>
<line x1="199.10" y1="44.60" x2="199.10" y2="47.60" stroke="#3a3a3a" stroke-width="0.9"/>
<line x1="202.70" y1="44.60" x2="202.70" y2="77.00" stroke="#3c3c3c" stroke-width="0.8"/>
<path d="M202.70,44.60 L202.70,51.60 L203.70,44.60 Z" fill="#3c3c3c" opacity="0.7"/>
<line x1="206.39" y1="44.60" x2="206.39" y2="83.00" stroke="#3c3c3c" stroke-width="0.8"/>
<path d="M206.39,44.60 L206.39,51.60 L207.39,44.60 Z" fill="#3c3c3c" opacity="0.7"/>
<line x1="210.08" y1="44.60" x2="210.08" y2="85.30" stroke="#3c3c3c" stroke-width="0.8"/>
<path d="M210.08,44.60 L210.08,51.60 L211.08,44.60 Z" fill="#3c3c3c" opacity="0.7"/>
<line x1="213.77" y1="44.60" x2="213.77" y2="87.10" stroke="#3c3c3c" stroke-width="0.8"/>
<path d="M213.77,44.60 L213.77,51.60 L214.77,44.60 Z" fill="#3c3c3c" opacity="0.7"/>
<line x1="217.46" y1="44.60" x2="217.46" y2="86.40" stroke="#3c3c3c" stroke-width="0.8"/>
<path d="M217.46,44.60 L217.46,51.60 L218.46,44.60 Z" fill="#3c3c3c" opacity="0.7"/>
<line x1="221.15" y1="44.60" x2="221.15" y2="85.30" stroke="#3c3c3c" stroke-width="0.8"/>
<path d="M221.15,44.60 L221.15,51.60 L222.15,44.60 Z" fill="#3c3c3c" opacity="0.7"/>
<line x1="224.84" y1="44.60" x2="224.84" y2="83.70" stroke="#3c3c3c" stroke-width="0.8"/>
<path d="M224.84,44.60 L224.84,51.60 L225.84,44.60 Z" fill="#3c3c3c" opacity="0.7"/>
<line x1="228.53" y1="44.60" x2="228.53" y2="81.90" stroke="#3c3c3c" stroke-width="0.8"/>
<path d="M228.53,44.60 L228.53,51.60 L229.53,44.60 Z" fill="#3c3c3c" opacity="0.7"/>
<line x1="232.22" y1="44.60" x2="232.22" y2="79.70" stroke="#3c3c3c" stroke-width="0.8"/>
<path d="M232.22,44.60 L232.22,51.60 L233.22,44.60 Z" fill="#3c3c3c" opacity="0.7"/>
<line x1="235.91" y1="44.60" x2="235.91" y2="77.40" stroke="#3c3c3c" stroke-width="0.8"/>
<path d="M235.91,44.60 L235.91,51.60 L236.91,44.60 Z" fill="#3c3c3c" opacity="0.7"/>
<line x1="239.60" y1="44.60" x2="239.60" y2="75.20" stroke="#3c3c3c" stroke-width="0.8"/>
<path d="M239.60,44.60 L239.60,51.60 L240.60,44.60 Z" fill="#3c3c3c" opacity="0.7"/>
<line x1="243.29" y1="44.60" x2="243.29" y2="73.00" stroke="#3c3c3c" stroke-width="0.8"/>
<path d="M243.29,44.60 L243.29,51.60 L244.29,44.60 Z" fill="#3c3c3c" opacity="0.7"/>
<line x1="246.98" y1="44.60" x2="246.98" y2="70.70" stroke="#3c3c3c" stroke-width="0.8"/>
<path d="M246.98,44.60 L246.98,51.60 L247.98,44.60 Z" fill="#3c3c3c" opacity="0.7"/>
<line x1="250.67" y1="44.60" x2="250.67" y2="68.50" stroke="#3c3c3c" stroke-width="0.8"/>
<path d="M250.67,44.60 L250.67,51.60 L251.67,44.60 Z" fill="#3c3c3c" opacity="0.7"/>
<line x1="254.36" y1="44.60" x2="254.36" y2="66.70" stroke="#3c3c3c" stroke-width="0.8"/>
<path d="M254.36,44.60 L254.36,51.60 L255.36,44.60 Z" fill="#3c3c3c" opacity="0.7"/>
<line x1="258.05" y1="44.60" x2="258.05" y2="64.70" stroke="#3c3c3c" stroke-width="0.8"/>
<path d="M258.05,44.60 L258.05,51.60 L259.05,44.60 Z" fill="#3c3c3c" opacity="0.7"/>
<line x1="261.74" y1="44.60" x2="261.74" y2="62.90" stroke="#3c3c3c" stroke-width="0.8"/>
<path d="M261.74,44.60 L261.74,51.01 L262.74,44.60 Z" fill="#3c3c3c" opacity="0.7"/>
<line x1="265.43" y1="44.60" x2="265.43" y2="61.10" stroke="#3c3c3c" stroke-width="0.8"/>
<path d="M265.43,44.60 L265.43,50.38 L266.43,44.60 Z" fill="#3c3c3c" opacity="0.7"/>
<line x1="269.12" y1="44.60" x2="269.12" y2="59.60" stroke="#3c3c3c" stroke-width="0.8"/>
<path d="M269.12,44.60 L269.12,49.85 L270.12,44.60 Z" fill="#3c3c3c" opacity="0.7"/>
<line x1="272.81" y1="44.60" x2="272.81" y2="58.00" stroke="#3c3c3c" stroke-width="0.8"/>
<path d="M272.81,44.60 L272.81,49.29 L273.81,44.60 Z" fill="#3c3c3c" opacity="0.7"/>
<line x1="276.50" y1="44.60" x2="276.50" y2="56.70" stroke="#3c3c3c" stroke-width="0.8"/>
<path d="M276.50,44.60 L276.50,48.84 L277.50,44.60 Z" fill="#3c3c3c" opacity="0.7"/>
<line x1="280.19" y1="44.60" x2="280.19" y2="55.50" stroke="#3c3c3c" stroke-width="0.8"/>
<path d="M280.19,44.60 L280.19,48.41 L281.19,44.60 Z" fill="#3c3c3c" opacity="0.7"/>
<line x1="283.88" y1="44.60" x2="283.88" y2="54.40" stroke="#3c3c3c" stroke-width="0.8"/>
<path d="M283.88,44.60 L283.88,48.03 L284.88,44.60 Z" fill="#3c3c3c" opacity="0.7"/>
<line x1="287.57" y1="44.60" x2="287.57" y2="53.50" stroke="#3c3c3c" stroke-width="0.8"/>
<path d="M287.57,44.60 L287.57,47.72 L288.57,44.60 Z" fill="#3c3c3c" opacity="0.7"/>
<line x1="291.26" y1="44.60" x2="291.26" y2="52.60" stroke="#3c3c3c" stroke-width="0.8"/>
<path d="M291.26,44.60 L291.26,47.40 L292.26,44.60 Z" fill="#3c3c3c" opacity="0.7"/>
<line x1="294.95" y1="44.60" x2="294.95" y2="52.00" stroke="#3c3c3c" stroke-width="0.8"/>
<path d="M294.95,44.60 L294.95,47.19 L295.95,44.60 Z" fill="#3c3c3c" opacity="0.7"/>
<line x1="298.64" y1="44.60" x2="298.64" y2="51.30" stroke="#3c3c3c" stroke-width="0.8"/>
<path d="M298.64,44.60 L298.64,46.95 L299.64,44.60 Z" fill="#3c3c3c" opacity="0.7"/>
<line x1="302.33" y1="44.60" x2="302.33" y2="50.60" stroke="#3c3c3c" stroke-width="0.8"/>
<path d="M302.33,44.60 L302.33,46.70 L303.33,44.60 Z" fill="#3c3c3c" opacity="0.7"/>
<line x1="306.02" y1="44.60" x2="306.02" y2="50.20" stroke="#3c3c3c" stroke-width="0.8"/>
<path d="M306.02,44.60 L306.02,46.56 L307.02,44.60 Z" fill="#3c3c3c" opacity="0.7"/>
<line x1="309.71" y1="44.60" x2="309.71" y2="49.70" stroke="#3c3c3c" stroke-width="0.8"/>
<path d="M309.71,44.60 L309.71,46.38 L310.71,44.60 Z" fill="#3c3c3c" opacity="0.7"/>
<line x1="313.40" y1="44.60" x2="313.40" y2="49.30" stroke="#3c3c3c" stroke-width="0.8"/>
<path d="M313.40,44.60 L313.40,46.25 L314.40,44.60 Z" fill="#3c3c3c" opacity="0.7"/>
<line x1="317.09" y1="44.60" x2="317.09" y2="48.80" stroke="#3c3c3c" stroke-width="0.8"/>
<path d="M317.09,44.60 L317.09,46.07 L318.09,44.60 Z" fill="#3c3c3c" opacity="0.7"/>
<line x1="320.78" y1="44.60" x2="320.78" y2="48.40" stroke="#3c3c3c" stroke-width="0.8"/>
<path d="M320.78,44.60 L320.78,45.93 L321.78,44.60 Z" fill="#3c3c3c" opacity="0.7"/>
<line x1="324.47" y1="44.60" x2="324.47" y2="48.00" stroke="#3c3c3c" stroke-width="0.8"/>
<path d="M324.47,44.60 L324.47,45.79 L325.47,44.60 Z" fill="#3c3c3c" opacity="0.7"/>
<line x1="359.30" y1="44.50" x2="487.80" y2="44.50" stroke="#3a3a3a" stroke-width="0.9"/>
<line x1="360.50" y1="44.50" x2="360.50" y2="52.50" stroke="#3a3a3a" stroke-width="0.9"/>
<line x1="364.10" y1="44.50" x2="364.10" y2="117.40" stroke="#3c3c3c" stroke-width="0.8"/>
<path d="M364.10,44.50 L364.10,51.50 L365.10,44.50 Z" fill="#3c3c3c" opacity="0.7"/>
<line x1="367.77" y1="44.50" x2="367.77" y2="123.60" stroke="#3c3c3c" stroke-width="0.8"/>
<path d="M367.77,44.50 L367.77,51.50 L368.77,44.50 Z" fill="#3c3c3c" opacity="0.7"/>
<line x1="371.44" y1="44.50" x2="371.44" y2="123.60" stroke="#3c3c3c" stroke-width="0.8"/>
<path d="M371.44,44.50 L371.44,51.50 L372.44,44.50 Z" fill="#3c3c3c" opacity="0.7"/>
<line x1="375.11" y1="44.50" x2="375.11" y2="119.30" stroke="#3c3c3c" stroke-width="0.8"/>
<path d="M375.11,44.50 L375.11,51.50 L376.11,44.50 Z" fill="#3c3c3c" opacity="0.7"/>
<line x1="378.78" y1="44.50" x2="378.78" y2="113.50" stroke="#3c3c3c" stroke-width="0.8"/>
<path d="M378.78,44.50 L378.78,51.50 L379.78,44.50 Z" fill="#3c3c3c" opacity="0.7"/>
<line x1="382.45" y1="44.50" x2="382.45" y2="106.90" stroke="#3c3c3c" stroke-width="0.8"/>
<path d="M382.45,44.50 L382.45,51.50 L383.45,44.50 Z" fill="#3c3c3c" opacity="0.7"/>
<line x1="386.12" y1="44.50" x2="386.12" y2="100.10" stroke="#3c3c3c" stroke-width="0.8"/>
<path d="M386.12,44.50 L386.12,51.50 L387.12,44.50 Z" fill="#3c3c3c" opacity="0.7"/>
<line x1="389.79" y1="44.50" x2="389.79" y2="93.40" stroke="#3c3c3c" stroke-width="0.8"/>
<path d="M389.79,44.50 L389.79,51.50 L390.79,44.50 Z" fill="#3c3c3c" opacity="0.7"/>
<line x1="393.46" y1="44.50" x2="393.46" y2="87.20" stroke="#3c3c3c" stroke-width="0.8"/>
<path d="M393.46,44.50 L393.46,51.50 L394.46,44.50 Z" fill="#3c3c3c" opacity="0.7"/>
<line x1="397.13" y1="44.50" x2="397.13" y2="81.30" stroke="#3c3c3c" stroke-width="0.8"/>
<path d="M397.13,44.50 L397.13,51.50 L398.13,44.50 Z" fill="#3c3c3c" opacity="0.7"/>
<line x1="400.80" y1="44.50" x2="400.80" y2="76.70" stroke="#3c3c3c" stroke-width="0.8"/>
<path d="M400.80,44.50 L400.80,51.50 L401.80,44.50 Z" fill="#3c3c3c" opacity="0.7"/>
<line x1="404.47" y1="44.50" x2="404.47" y2="72.40" stroke="#3c3c3c" stroke-width="0.8"/>
<path d="M404.47,44.50 L404.47,51.50 L405.47,44.50 Z" fill="#3c3c3c" opacity="0.7"/>
<line x1="408.14" y1="44.50" x2="408.14" y2="68.70" stroke="#3c3c3c" stroke-width="0.8"/>
<path d="M408.14,44.50 L408.14,51.50 L409.14,44.50 Z" fill="#3c3c3c" opacity="0.7"/>
<line x1="411.81" y1="44.50" x2="411.81" y2="65.60" stroke="#3c3c3c" stroke-width="0.8"/>
<path d="M411.81,44.50 L411.81,51.50 L412.81,44.50 Z" fill="#3c3c3c" opacity="0.7"/>
<line x1="415.48" y1="44.50" x2="415.48" y2="62.00" stroke="#3c3c3c" stroke-width="0.8"/>
<path d="M415.48,44.50 L415.48,50.62 L416.48,44.50 Z" fill="#3c3c3c" opacity="0.7"/>
<line x1="419.15" y1="44.50" x2="419.15" y2="59.70" stroke="#3c3c3c" stroke-width="0.8"/>
<path d="M419.15,44.50 L419.15,49.82 L420.15,44.50 Z" fill="#3c3c3c" opacity="0.7"/>
<line x1="422.82" y1="44.50" x2="422.82" y2="57.30" stroke="#3c3c3c" stroke-width="0.8"/>
<path d="M422.82,44.50 L422.82,48.98 L423.82,44.50 Z" fill="#3c3c3c" opacity="0.7"/>
<line x1="426.49" y1="44.50" x2="426.49" y2="55.30" stroke="#3c3c3c" stroke-width="0.8"/>
<path d="M426.49,44.50 L426.49,48.28 L427.49,44.50 Z" fill="#3c3c3c" opacity="0.7"/>
<line x1="430.16" y1="44.50" x2="430.16" y2="53.90" stroke="#3c3c3c" stroke-width="0.8"/>
<path d="M430.16,44.50 L430.16,47.79 L431.16,44.50 Z" fill="#3c3c3c" opacity="0.7"/>
<line x1="433.83" y1="44.50" x2="433.83" y2="52.70" stroke="#3c3c3c" stroke-width="0.8"/>
<path d="M433.83,44.50 L433.83,47.37 L434.83,44.50 Z" fill="#3c3c3c" opacity="0.7"/>
<line x1="437.50" y1="44.50" x2="437.50" y2="51.50" stroke="#3c3c3c" stroke-width="0.8"/>
<path d="M437.50,44.50 L437.50,46.95 L438.50,44.50 Z" fill="#3c3c3c" opacity="0.7"/>
<line x1="441.17" y1="44.50" x2="441.17" y2="50.80" stroke="#3c3c3c" stroke-width="0.8"/>
<path d="M441.17,44.50 L441.17,46.70 L442.17,44.50 Z" fill="#3c3c3c" opacity="0.7"/>
<line x1="444.84" y1="44.50" x2="444.84" y2="50.20" stroke="#3c3c3c" stroke-width="0.8"/>
<path d="M444.84,44.50 L444.84,46.49 L445.84,44.50 Z" fill="#3c3c3c" opacity="0.7"/>
<line x1="448.51" y1="44.50" x2="448.51" y2="49.30" stroke="#3c3c3c" stroke-width="0.8"/>
<path d="M448.51,44.50 L448.51,46.18 L449.51,44.50 Z" fill="#3c3c3c" opacity="0.7"/>
<line x1="452.18" y1="44.50" x2="452.18" y2="48.60" stroke="#3c3c3c" stroke-width="0.8"/>
<path d="M452.18,44.50 L452.18,45.94 L453.18,44.50 Z" fill="#3c3c3c" opacity="0.7"/>
<line x1="455.85" y1="44.50" x2="455.85" y2="48.10" stroke="#3c3c3c" stroke-width="0.8"/>
<path d="M455.85,44.50 L455.85,45.76 L456.85,44.50 Z" fill="#3c3c3c" opacity="0.7"/>
<line x1="459.52" y1="44.50" x2="459.52" y2="47.70" stroke="#3c3c3c" stroke-width="0.8"/>
<path d="M459.52,44.50 L459.52,45.62 L460.52,44.50 Z" fill="#3c3c3c" opacity="0.7"/>
<line x1="463.19" y1="44.50" x2="463.19" y2="47.10" stroke="#3c3c3c" stroke-width="0.8"/>
<path d="M463.19,44.50 L463.19,45.41 L464.19,44.50 Z" fill="#3c3c3c" opacity="0.7"/>
<line x1="466.86" y1="44.50" x2="466.86" y2="46.80" stroke="#3c3c3c" stroke-width="0.8"/>
<path d="M466.86,44.50 L466.86,45.30 L467.86,44.50 Z" fill="#3c3c3c" opacity="0.7"/>
<line x1="470.53" y1="44.50" x2="470.53" y2="46.50" stroke="#3c3c3c" stroke-width="0.8"/>
<path d="M470.53,44.50 L470.53,45.20 L471.53,44.50 Z" fill="#3c3c3c" opacity="0.7"/>
<line x1="474.20" y1="44.50" x2="474.20" y2="46.30" stroke="#3c3c3c" stroke-width="0.8"/>
<path d="M474.20,44.50 L474.20,45.13 L475.20,44.50 Z" fill="#3c3c3c" opacity="0.7"/>
<line x1="477.87" y1="44.50" x2="477.87" y2="46.20" stroke="#3c3c3c" stroke-width="0.8"/>
<path d="M477.87,44.50 L477.87,45.09 L478.87,44.50 Z" fill="#3c3c3c" opacity="0.7"/>
<line x1="481.54" y1="44.50" x2="481.54" y2="45.90" stroke="#3c3c3c" stroke-width="0.8"/>
<path d="M481.54,44.50 L481.54,44.99 L482.54,44.50 Z" fill="#3c3c3c" opacity="0.7"/>
<line x1="485.21" y1="44.50" x2="485.21" y2="45.70" stroke="#3c3c3c" stroke-width="0.8"/>
<path d="M485.21,44.50 L485.21,44.92 L486.21,44.50 Z" fill="#3c3c3c" opacity="0.7"/>
<line x1="519.10" y1="47.30" x2="649.60" y2="47.30" stroke="#3a3a3a" stroke-width="0.9"/>
<line x1="520.30" y1="47.30" x2="520.30" y2="50.30" stroke="#3a3a3a" stroke-width="0.9"/>
<line x1="523.90" y1="47.30" x2="523.90" y2="115.90" stroke="#3c3c3c" stroke-width="0.8"/>
<path d="M523.90,47.30 L523.90,54.30 L524.90,47.30 Z" fill="#3c3c3c" opacity="0.7"/>
<line x1="527.60" y1="47.30" x2="527.60" y2="122.10" stroke="#3c3c3c" stroke-width="0.8"/>
<path d="M527.60,47.30 L527.60,54.30 L528.60,47.30 Z" fill="#3c3c3c" opacity="0.7"/>
<line x1="531.30" y1="47.30" x2="531.30" y2="121.30" stroke="#3c3c3c" stroke-width="0.8"/>
<path d="M531.30,47.30 L531.30,54.30 L532.30,47.30 Z" fill="#3c3c3c" opacity="0.7"/>
<line x1="535.00" y1="47.30" x2="535.00" y2="118.20" stroke="#3c3c3c" stroke-width="0.8"/>
<path d="M535.00,47.30 L535.00,54.30 L536.00,47.30 Z" fill="#3c3c3c" opacity="0.7"/>
<line x1="538.70" y1="47.30" x2="538.70" y2="113.80" stroke="#3c3c3c" stroke-width="0.8"/>
<path d="M538.70,47.30 L538.70,54.30 L539.70,47.30 Z" fill="#3c3c3c" opacity="0.7"/>
<line x1="542.40" y1="47.30" x2="542.40" y2="109.70" stroke="#3c3c3c" stroke-width="0.8"/>
<path d="M542.40,47.30 L542.40,54.30 L543.40,47.30 Z" fill="#3c3c3c" opacity="0.7"/>
<line x1="546.10" y1="47.30" x2="546.10" y2="104.20" stroke="#3c3c3c" stroke-width="0.8"/>
<path d="M546.10,47.30 L546.10,54.30 L547.10,47.30 Z" fill="#3c3c3c" opacity="0.7"/>
<line x1="549.80" y1="47.30" x2="549.80" y2="98.40" stroke="#3c3c3c" stroke-width="0.8"/>
<path d="M549.80,47.30 L549.80,54.30 L550.80,47.30 Z" fill="#3c3c3c" opacity="0.7"/>
<line x1="553.50" y1="47.30" x2="553.50" y2="92.60" stroke="#3c3c3c" stroke-width="0.8"/>
<path d="M553.50,47.30 L553.50,54.30 L554.50,47.30 Z" fill="#3c3c3c" opacity="0.7"/>
<line x1="557.20" y1="47.30" x2="557.20" y2="87.20" stroke="#3c3c3c" stroke-width="0.8"/>
<path d="M557.20,47.30 L557.20,54.30 L558.20,47.30 Z" fill="#3c3c3c" opacity="0.7"/>
<line x1="560.90" y1="47.30" x2="560.90" y2="82.50" stroke="#3c3c3c" stroke-width="0.8"/>
<path d="M560.90,47.30 L560.90,54.30 L561.90,47.30 Z" fill="#3c3c3c" opacity="0.7"/>
<line x1="564.60" y1="47.30" x2="564.60" y2="77.80" stroke="#3c3c3c" stroke-width="0.8"/>
<path d="M564.60,47.30 L564.60,54.30 L565.60,47.30 Z" fill="#3c3c3c" opacity="0.7"/>
<line x1="568.30" y1="47.30" x2="568.30" y2="73.20" stroke="#3c3c3c" stroke-width="0.8"/>
<path d="M568.30,47.30 L568.30,54.30 L569.30,47.30 Z" fill="#3c3c3c" opacity="0.7"/>
<line x1="572.00" y1="47.30" x2="572.00" y2="70.10" stroke="#3c3c3c" stroke-width="0.8"/>
<path d="M572.00,47.30 L572.00,54.30 L573.00,47.30 Z" fill="#3c3c3c" opacity="0.7"/>
<line x1="575.70" y1="47.30" x2="575.70" y2="66.20" stroke="#3c3c3c" stroke-width="0.8"/>
<path d="M575.70,47.30 L575.70,53.91 L576.70,47.30 Z" fill="#3c3c3c" opacity="0.7"/>
<line x1="579.40" y1="47.30" x2="579.40" y2="63.10" stroke="#3c3c3c" stroke-width="0.8"/>
<path d="M579.40,47.30 L579.40,52.83 L580.40,47.30 Z" fill="#3c3c3c" opacity="0.7"/>
<line x1="583.10" y1="47.30" x2="583.10" y2="61.30" stroke="#3c3c3c" stroke-width="0.8"/>
<path d="M583.10,47.30 L583.10,52.20 L584.10,47.30 Z" fill="#3c3c3c" opacity="0.7"/>
<line x1="586.80" y1="47.30" x2="586.80" y2="59.20" stroke="#3c3c3c" stroke-width="0.8"/>
<path d="M586.80,47.30 L586.80,51.46 L587.80,47.30 Z" fill="#3c3c3c" opacity="0.7"/>
<line x1="590.50" y1="47.30" x2="590.50" y2="57.70" stroke="#3c3c3c" stroke-width="0.8"/>
<path d="M590.50,47.30 L590.50,50.94 L591.50,47.30 Z" fill="#3c3c3c" opacity="0.7"/>
<line x1="594.20" y1="47.30" x2="594.20" y2="56.20" stroke="#3c3c3c" stroke-width="0.8"/>
<path d="M594.20,47.30 L594.20,50.41 L595.20,47.30 Z" fill="#3c3c3c" opacity="0.7"/>
<line x1="597.90" y1="47.30" x2="597.90" y2="55.10" stroke="#3c3c3c" stroke-width="0.8"/>
<path d="M597.90,47.30 L597.90,50.03 L598.90,47.30 Z" fill="#3c3c3c" opacity="0.7"/>
<line x1="601.60" y1="47.30" x2="601.60" y2="54.10" stroke="#3c3c3c" stroke-width="0.8"/>
<path d="M601.60,47.30 L601.60,49.68 L602.60,47.30 Z" fill="#3c3c3c" opacity="0.7"/>
<line x1="605.30" y1="47.30" x2="605.30" y2="53.10" stroke="#3c3c3c" stroke-width="0.8"/>
<path d="M605.30,47.30 L605.30,49.33 L606.30,47.30 Z" fill="#3c3c3c" opacity="0.7"/>
<line x1="609.00" y1="47.30" x2="609.00" y2="52.60" stroke="#3c3c3c" stroke-width="0.8"/>
<path d="M609.00,47.30 L609.00,49.15 L610.00,47.30 Z" fill="#3c3c3c" opacity="0.7"/>
<line x1="612.70" y1="47.30" x2="612.70" y2="52.00" stroke="#3c3c3c" stroke-width="0.8"/>
<path d="M612.70,47.30 L612.70,48.95 L613.70,47.30 Z" fill="#3c3c3c" opacity="0.7"/>
<line x1="616.40" y1="47.30" x2="616.40" y2="51.20" stroke="#3c3c3c" stroke-width="0.8"/>
<path d="M616.40,47.30 L616.40,48.66 L617.40,47.30 Z" fill="#3c3c3c" opacity="0.7"/>
<line x1="620.10" y1="47.30" x2="620.10" y2="50.70" stroke="#3c3c3c" stroke-width="0.8"/>
<path d="M620.10,47.30 L620.10,48.49 L621.10,47.30 Z" fill="#3c3c3c" opacity="0.7"/>
<line x1="623.80" y1="47.30" x2="623.80" y2="50.30" stroke="#3c3c3c" stroke-width="0.8"/>
<path d="M623.80,47.30 L623.80,48.35 L624.80,47.30 Z" fill="#3c3c3c" opacity="0.7"/>
<line x1="627.50" y1="47.30" x2="627.50" y2="50.00" stroke="#3c3c3c" stroke-width="0.8"/>
<path d="M627.50,47.30 L627.50,48.24 L628.50,47.30 Z" fill="#3c3c3c" opacity="0.7"/>
<line x1="631.20" y1="47.30" x2="631.20" y2="49.70" stroke="#3c3c3c" stroke-width="0.8"/>
<path d="M631.20,47.30 L631.20,48.14 L632.20,47.30 Z" fill="#3c3c3c" opacity="0.7"/>
<line x1="634.90" y1="47.30" x2="634.90" y2="49.40" stroke="#3c3c3c" stroke-width="0.8"/>
<path d="M634.90,47.30 L634.90,48.03 L635.90,47.30 Z" fill="#3c3c3c" opacity="0.7"/>
<line x1="638.60" y1="47.30" x2="638.60" y2="49.20" stroke="#3c3c3c" stroke-width="0.8"/>
<path d="M638.60,47.30 L638.60,47.96 L639.60,47.30 Z" fill="#3c3c3c" opacity="0.7"/>
<line x1="642.30" y1="47.30" x2="642.30" y2="49.00" stroke="#3c3c3c" stroke-width="0.8"/>
<path d="M642.30,47.30 L642.30,47.89 L643.30,47.30 Z" fill="#3c3c3c" opacity="0.7"/>
<line x1="646.00" y1="47.30" x2="646.00" y2="48.80" stroke="#3c3c3c" stroke-width="0.8"/>
<path d="M646.00,47.30 L646.00,47.82 L647.00,47.30 Z" fill="#3c3c3c" opacity="0.7"/>
<line x1="43.20" y1="44.40" x2="43.20" y2="42.40" stroke="#3a3a3a" stroke-width="0.8"/>
<rect x="44.95" y="176.95" width="4.1" height="4.1" fill="#000"/>
<rect x="48.61" y="176.75" width="4.1" height="4.1" fill="#000"/>
<rect x="52.27" y="176.54" width="4.1" height="4.1" fill="#000"/>
<rect x="55.92" y="176.34" width="4.1" height="4.1" fill="#000"/>
<rect x="59.58" y="176.13" width="4.1" height="4.1" fill="#000"/>
<rect x="63.24" y="175.93" width="4.1" height="4.1" fill="#000"/>
<rect x="66.90" y="175.72" width="4.1" height="4.1" fill="#000"/>
<rect x="70.55" y="175.42" width="4.1" height="4.1" fill="#000"/>
<rect x="74.21" y="174.65" width="4.1" height="4.1" fill="#000"/>
<rect x="77.87" y="173.88" width="4.1" height="4.1" fill="#000"/>
<rect x="81.53" y="173.11" width="4.1" height="4.1" fill="#000"/>
<rect x="85.18" y="172.34" width="4.1" height="4.1" fill="#000"/>
<rect x="88.84" y="171.57" width="4.1" height="4.1" fill="#000"/>
<rect x="92.50" y="170.80" width="4.1" height="4.1" fill="#000"/>
<rect x="96.16" y="170.03" width="4.1" height="4.1" fill="#000"/>
<rect x="99.81" y="169.30" width="4.1" height="4.1" fill="#000"/>
<rect x="103.47" y="168.60" width="4.1" height="4.1" fill="#000"/>
<rect x="107.13" y="167.91" width="4.1" height="4.1" fill="#000"/>
<rect x="110.79" y="167.42" width="4.1" height="4.1" fill="#000"/>
<rect x="114.44" y="166.99" width="4.1" height="4.1" fill="#000"/>
<rect x="118.10" y="166.56" width="4.1" height="4.1" fill="#000"/>
<rect x="121.76" y="166.13" width="4.1" height="4.1" fill="#000"/>
<rect x="125.42" y="165.71" width="4.1" height="4.1" fill="#000"/>
<rect x="129.07" y="165.28" width="4.1" height="4.1" fill="#000"/>
<rect x="132.73" y="164.85" width="4.1" height="4.1" fill="#000"/>
<rect x="136.39" y="164.42" width="4.1" height="4.1" fill="#000"/>
<rect x="140.05" y="163.99" width="4.1" height="4.1" fill="#000"/>
<rect x="143.70" y="163.56" width="4.1" height="4.1" fill="#000"/>
<rect x="147.36" y="163.14" width="4.1" height="4.1" fill="#000"/>
<rect x="151.02" y="162.95" width="4.1" height="4.1" fill="#000"/>
<rect x="154.68" y="162.95" width="4.1" height="4.1" fill="#000"/>
<rect x="158.33" y="162.95" width="4.1" height="4.1" fill="#000"/>
<rect x="161.99" y="162.95" width="4.1" height="4.1" fill="#000"/>
<rect x="165.65" y="162.95" width="4.1" height="4.1" fill="#000"/>
<rect x="205.35" y="192.35" width="4.1" height="4.1" fill="#000"/>
<rect x="208.55" y="198.65" width="4.1" height="4.1" fill="#000"/>
<rect x="211.95" y="202.65" width="4.1" height="4.1" fill="#000"/>
<rect x="215.55" y="205.05" width="4.1" height="4.1" fill="#000"/>
<rect x="219.00" y="205.80" width="4.1" height="4.1" fill="#000"/>
<rect x="222.45" y="205.42" width="4.1" height="4.1" fill="#000"/>
<rect x="225.90" y="204.37" width="4.1" height="4.1" fill="#000"/>
<rect x="229.35" y="202.56" width="4.1" height="4.1" fill="#000"/>
<rect x="232.80" y="200.81" width="4.1" height="4.1" fill="#000"/>
<rect x="236.25" y="198.72" width="4.1" height="4.1" fill="#000"/>
<rect x="239.70" y="196.75" width="4.1" height="4.1" fill="#000"/>
<rect x="243.15" y="194.72" width="4.1" height="4.1" fill="#000"/>
<rect x="246.77" y="192.34" width="4.1" height="4.1" fill="#000"/>
<rect x="250.38" y="190.01" width="4.1" height="4.1" fill="#000"/>
<rect x="254.00" y="187.90" width="4.1" height="4.1" fill="#000"/>
<rect x="257.62" y="185.92" width="4.1" height="4.1" fill="#000"/>
<rect x="261.24" y="184.03" width="4.1" height="4.1" fill="#000"/>
<rect x="264.85" y="182.23" width="4.1" height="4.1" fill="#000"/>
<rect x="268.47" y="180.52" width="4.1" height="4.1" fill="#000"/>
<rect x="272.09" y="179.29" width="4.1" height="4.1" fill="#000"/>
<rect x="275.71" y="178.44" width="4.1" height="4.1" fill="#000"/>
<rect x="279.32" y="177.59" width="4.1" height="4.1" fill="#000"/>
<rect x="282.94" y="176.73" width="4.1" height="4.1" fill="#000"/>
<rect x="286.56" y="175.85" width="4.1" height="4.1" fill="#000"/>
<rect x="290.18" y="174.97" width="4.1" height="4.1" fill="#000"/>
<rect x="293.79" y="174.09" width="4.1" height="4.1" fill="#000"/>
<rect x="297.41" y="173.36" width="4.1" height="4.1" fill="#000"/>
<rect x="301.03" y="172.65" width="4.1" height="4.1" fill="#000"/>
<rect x="304.65" y="171.93" width="4.1" height="4.1" fill="#000"/>
<rect x="308.26" y="171.34" width="4.1" height="4.1" fill="#000"/>
<rect x="311.88" y="170.83" width="4.1" height="4.1" fill="#000"/>
<rect x="315.50" y="170.31" width="4.1" height="4.1" fill="#000"/>
<rect x="319.12" y="169.98" width="4.1" height="4.1" fill="#000"/>
<rect x="322.73" y="169.66" width="4.1" height="4.1" fill="#000"/>
<rect x="326.35" y="169.35" width="4.1" height="4.1" fill="#000"/>
<rect x="366.85" y="225.45" width="4.1" height="4.1" fill="#000"/>
<rect x="370.25" y="236.95" width="4.1" height="4.1" fill="#000"/>
<rect x="373.45" y="240.75" width="4.1" height="4.1" fill="#000"/>
<rect x="376.65" y="239.85" width="4.1" height="4.1" fill="#000"/>
<rect x="380.05" y="236.05" width="4.1" height="4.1" fill="#000"/>
<rect x="383.45" y="230.35" width="4.1" height="4.1" fill="#000"/>
<rect x="386.85" y="223.75" width="4.1" height="4.1" fill="#000"/>
<rect x="390.25" y="217.15" width="4.1" height="4.1" fill="#000"/>
<rect x="393.65" y="211.25" width="4.1" height="4.1" fill="#000"/>
<rect x="397.05" y="205.65" width="4.1" height="4.1" fill="#000"/>
<rect x="400.65" y="200.55" width="4.1" height="4.1" fill="#000"/>
<rect x="404.05" y="195.65" width="4.1" height="4.1" fill="#000"/>
<rect x="407.61" y="191.89" width="4.1" height="4.1" fill="#000"/>
<rect x="411.17" y="188.61" width="4.1" height="4.1" fill="#000"/>
<rect x="414.73" y="185.26" width="4.1" height="4.1" fill="#000"/>
<rect x="418.29" y="181.66" width="4.1" height="4.1" fill="#000"/>
<rect x="421.85" y="179.66" width="4.1" height="4.1" fill="#000"/>
<rect x="425.42" y="178.07" width="4.1" height="4.1" fill="#000"/>
<rect x="428.98" y="176.66" width="4.1" height="4.1" fill="#000"/>
<rect x="432.54" y="175.22" width="4.1" height="4.1" fill="#000"/>
<rect x="436.10" y="173.86" width="4.1" height="4.1" fill="#000"/>
<rect x="439.66" y="172.65" width="4.1" height="4.1" fill="#000"/>
<rect x="443.22" y="171.67" width="4.1" height="4.1" fill="#000"/>
<rect x="446.78" y="170.83" width="4.1" height="4.1" fill="#000"/>
<rect x="450.34" y="170.03" width="4.1" height="4.1" fill="#000"/>
<rect x="453.90" y="169.26" width="4.1" height="4.1" fill="#000"/>
<rect x="457.46" y="168.64" width="4.1" height="4.1" fill="#000"/>
<rect x="461.02" y="168.11" width="4.1" height="4.1" fill="#000"/>
<rect x="464.58" y="167.66" width="4.1" height="4.1" fill="#000"/>
<rect x="468.15" y="167.21" width="4.1" height="4.1" fill="#000"/>
<rect x="471.71" y="166.86" width="4.1" height="4.1" fill="#000"/>
<rect x="475.27" y="166.57" width="4.1" height="4.1" fill="#000"/>
<rect x="478.83" y="166.31" width="4.1" height="4.1" fill="#000"/>
<rect x="482.39" y="166.13" width="4.1" height="4.1" fill="#000"/>
<rect x="485.95" y="165.95" width="4.1" height="4.1" fill="#000"/>
<rect x="520.75" y="228.35" width="4.1" height="4.1" fill="#000"/>
<rect x="524.75" y="241.15" width="4.1" height="4.1" fill="#000"/>
<rect x="528.05" y="244.05" width="4.1" height="4.1" fill="#000"/>
<rect x="531.75" y="243.05" width="4.1" height="4.1" fill="#000"/>
<rect x="535.65" y="239.45" width="4.1" height="4.1" fill="#000"/>
<rect x="539.35" y="234.95" width="4.1" height="4.1" fill="#000"/>
<rect x="543.05" y="230.05" width="4.1" height="4.1" fill="#000"/>
<rect x="546.75" y="223.45" width="4.1" height="4.1" fill="#000"/>
<rect x="550.45" y="216.45" width="4.1" height="4.1" fill="#000"/>
<rect x="554.15" y="209.85" width="4.1" height="4.1" fill="#000"/>
<rect x="557.85" y="203.45" width="4.1" height="4.1" fill="#000"/>
<rect x="561.85" y="196.95" width="4.1" height="4.1" fill="#000"/>
<rect x="565.65" y="192.95" width="4.1" height="4.1" fill="#000"/>
<rect x="569.65" y="188.85" width="4.1" height="4.1" fill="#000"/>
<rect x="573.45" y="183.65" width="4.1" height="4.1" fill="#000"/>
<rect x="577.35" y="179.75" width="4.1" height="4.1" fill="#000"/>
<rect x="581.15" y="175.95" width="4.1" height="4.1" fill="#000"/>
<rect x="585.05" y="172.85" width="4.1" height="4.1" fill="#000"/>
<rect x="588.85" y="170.25" width="4.1" height="4.1" fill="#000"/>
<rect x="592.85" y="168.55" width="4.1" height="4.1" fill="#000"/>
<rect x="596.65" y="166.85" width="4.1" height="4.1" fill="#000"/>
<rect x="600.55" y="165.45" width="4.1" height="4.1" fill="#000"/>
<rect x="604.35" y="164.25" width="4.1" height="4.1" fill="#000"/>
<rect x="608.25" y="163.05" width="4.1" height="4.1" fill="#000"/>
<rect x="612.05" y="162.25" width="4.1" height="4.1" fill="#000"/>
<rect x="616.05" y="161.55" width="4.1" height="4.1" fill="#000"/>
<rect x="619.85" y="161.05" width="4.1" height="4.1" fill="#000"/>
<rect x="623.75" y="160.65" width="4.1" height="4.1" fill="#000"/>
<rect x="627.55" y="160.35" width="4.1" height="4.1" fill="#000"/>
<rect x="631.45" y="159.95" width="4.1" height="4.1" fill="#000"/>
<rect x="635.25" y="159.85" width="4.1" height="4.1" fill="#000"/>
<rect x="639.25" y="159.65" width="4.1" height="4.1" fill="#000"/>
<rect x="643.05" y="159.45" width="4.1" height="4.1" fill="#000"/>
<rect x="646.95" y="159.25" width="4.1" height="4.1" fill="#000"/>
<rect x="651.05" y="159.15" width="4.1" height="4.1" fill="#000"/>
</svg>
</body></html>
